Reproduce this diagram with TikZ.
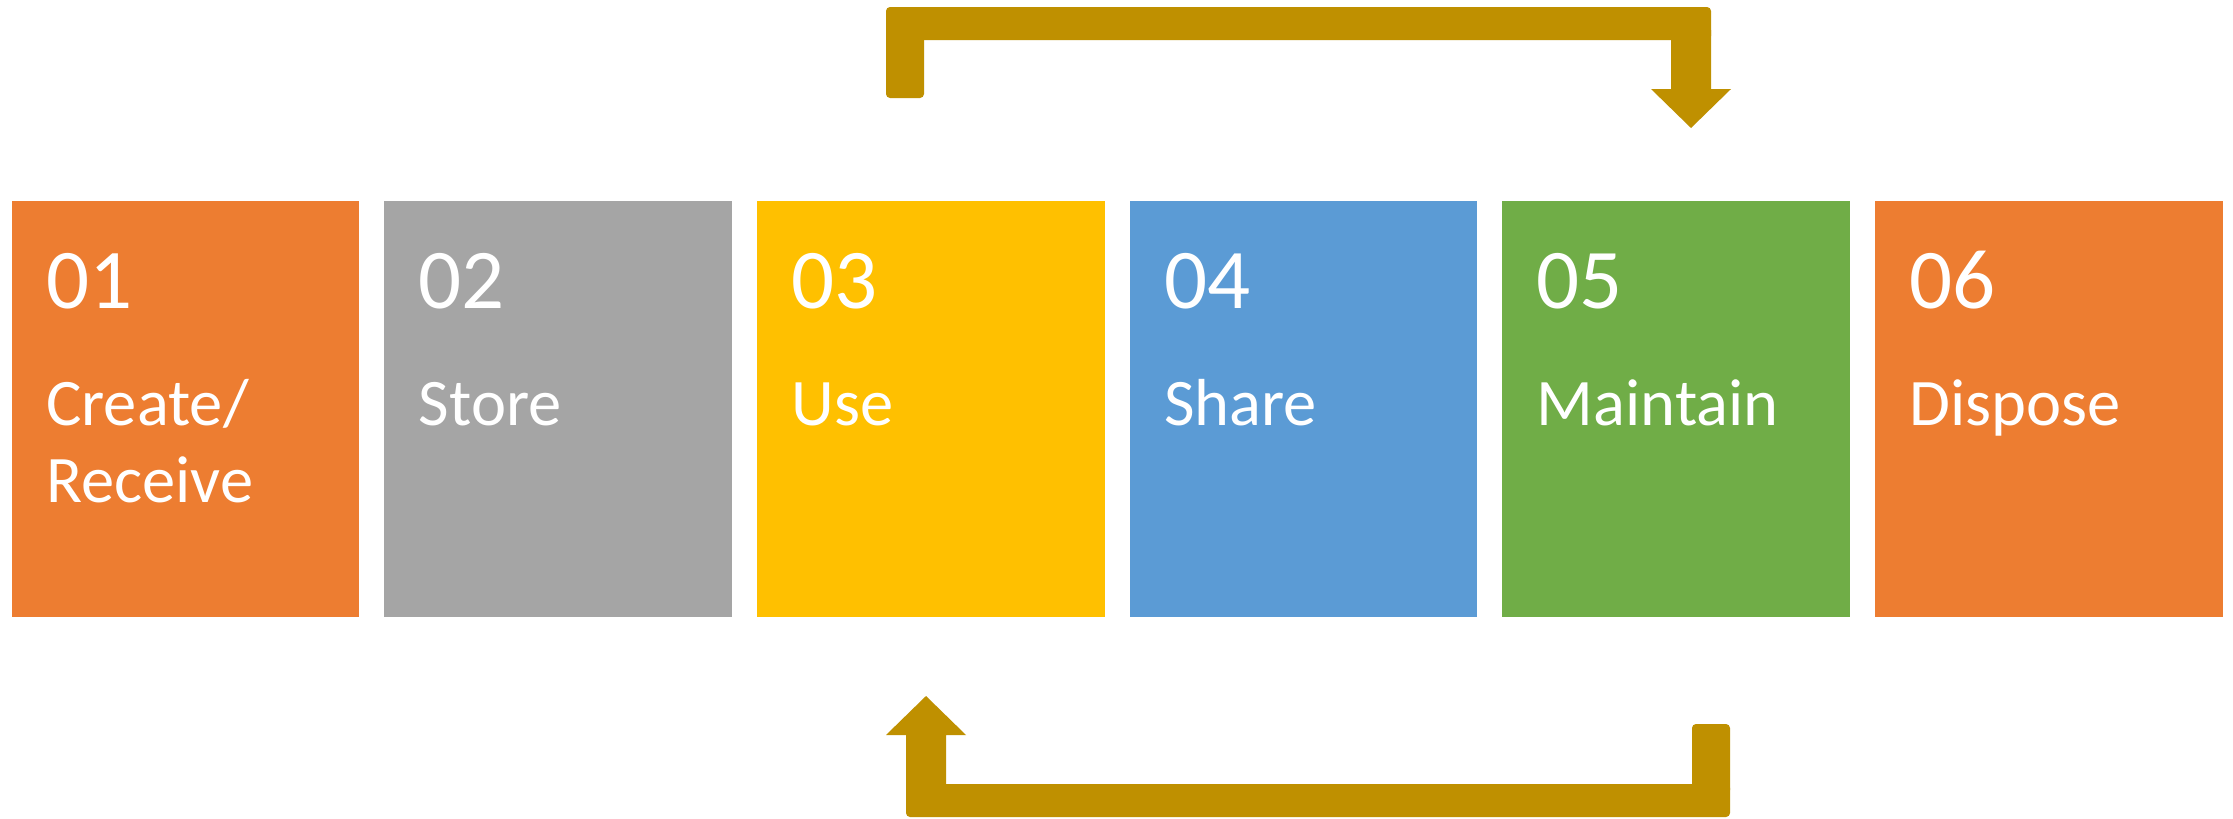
\documentclass[tikz,border=0pt]{standalone}
\usepackage{fontspec}
\setmainfont{Carlito}
\definecolor{corange}{HTML}{ED7D31}
\definecolor{cgray}{HTML}{A5A5A5}
\definecolor{cyellow}{HTML}{FFC000}
\definecolor{cblue}{HTML}{5B9BD5}
\definecolor{cgreen}{HTML}{70AD47}
\definecolor{cgold}{HTML}{BF9000}
\begin{document}
\begin{tikzpicture}[x=1pt,y=-1pt,
  stagebox/.style={rectangle, draw=none, inner sep=0pt, outer sep=0pt,
    minimum width=347.5pt, minimum height=416pt, anchor=north west},
  numtext/.style={anchor=base west, inner sep=0pt, text=white,
    font=\fontsize{85}{98}\selectfont},
  labtext/.style={anchor=base west, inner sep=0pt, text=white,
    font=\fontsize{66.5}{77}\selectfont},
  goldshape/.style={fill=cgold, draw=none}]
\useasboundingbox (0,0) rectangle (2233,819);
\fill[white] (0,0) rectangle (2233,819);
% boxes
\node[stagebox, fill=corange] (b1) at (11.7,201) {};
\node[stagebox, fill=cgray]   (b2) at (384.3,201) {};
\node[stagebox, fill=cyellow] (b3) at (757,201) {};
\node[stagebox, fill=cblue]   (b4) at (1129.6,201) {};
\node[stagebox, fill=cgreen]  (b5) at (1502.3,201) {};
\node[stagebox, fill=corange] (b6) at (1875,201) {};
% numbers
\node[numtext] (n1) at (46,308) {01};
\node[numtext] (n2) at (418.6,308) {02};
\node[numtext] (n3) at (791.3,308) {03};
\node[numtext] (n4) at (1163.9,308) {04};
\node[numtext] (n5) at (1536.6,308) {05};
\node[numtext] (n6) at (1909.3,308) {06};
% labels
\node[labtext] (l1a) at (46,425) {Create/};
\node[labtext] (l1b) at (46,502) {Receive};
\node[labtext] (l2) at (418.6,425) {Store};
\node[labtext] (l3) at (791.3,425) {Use};
\node[labtext] (l4) at (1163.9,425) {Share};
\node[labtext] (l5) at (1536.6,425) {Maintain};
\node[labtext] (l6) at (1909.3,425) {Dispose};
% top arrow
\fill[goldshape, rounded corners=4pt] (886,7) rectangle (1711,40);
\fill[goldshape, rounded corners=4pt] (886,30) rectangle (924,98);
\fill[goldshape] (1671,30) -- (1711,30) -- (1711,89) -- (1731,89)
  -- (1691,128) -- (1651,89) -- (1671,89) -- cycle;
% bottom arrow
\fill[goldshape, rounded corners=4pt] (906,784) rectangle (1730,817);
\fill[goldshape, rounded corners=4pt] (1692,724) rectangle (1730,794);
\fill[goldshape] (906,794) -- (906,735) -- (886,735) -- (926,696)
  -- (966,735) -- (946,735) -- (946,794) -- cycle;
\end{tikzpicture}
\end{document}
